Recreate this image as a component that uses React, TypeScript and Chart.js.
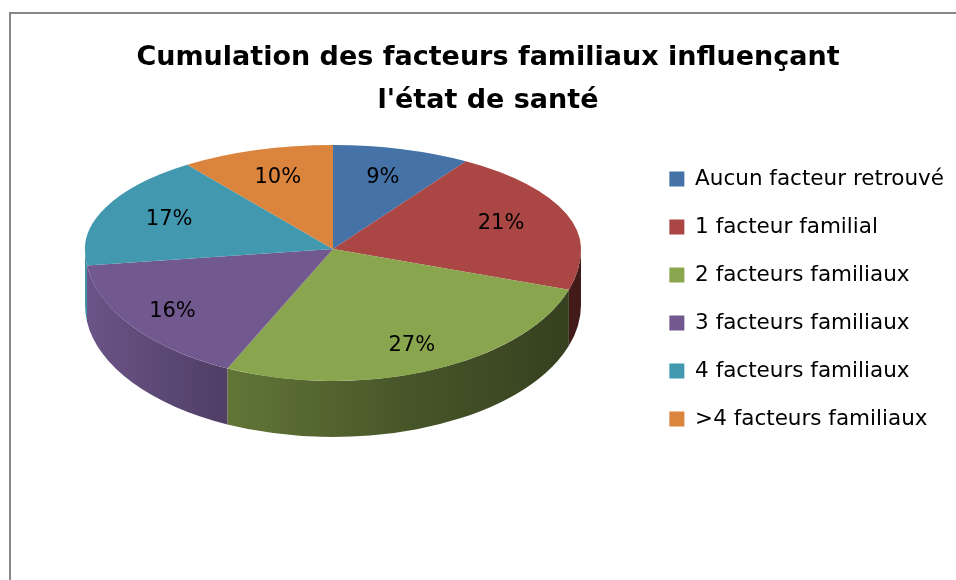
import React, { useEffect, useRef } from "react";
import { Chart, registerables } from "chart.js";

Chart.register(...registerables);

// ---- data ----
const categories = [
  "Aucun facteur retrouvé",
  "1 facteur familial",
  "2 facteurs familiaux",
  "3 facteurs familiaux",
  "4 facteurs familiaux",
  ">4 facteurs familiaux",
];
const percentages = [9, 21, 27, 16, 17, 10];
const sliceColors = ["#4572A7", "#AA4643", "#89A54E", "#71588F", "#4198AF", "#DB843D"];
const titleLines = ["Cumulation des facteurs familiaux influençant", "l'état de santé"];

// ---- 3D look (layout only) ----
const VIEW = { cx: 333, cy: 249, rx: 248, ryBack: 104, ryFront: 132, depth: 56 };
const FONT = "'DejaVu Sans', sans-serif";

function shade(hex: string, f: number) {
  const n = parseInt(hex.slice(1), 16);
  const r = Math.round(((n >> 16) & 255) * f);
  const g = Math.round(((n >> 8) & 255) * f);
  const b = Math.round((n & 255) * f);
  return `rgb(${r},${g},${b})`;
}

function applyHalf(ctx: CanvasRenderingContext2D, ax: number, ay: number, R: number, ry: number) {
  ctx.translate(VIEW.cx, VIEW.cy);
  ctx.scale(VIEW.rx / R, ry / R);
  ctx.translate(-ax, -ay);
}

const pie3d = {
  id: "pie3d",
  beforeDatasetsDraw(chart: any) {
    const meta = chart.getDatasetMeta(0);
    const arcs = meta.data;
    if (!arcs.length) return;
    const ctx: CanvasRenderingContext2D = chart.ctx;
    const { cx, cy, rx, ryFront, depth } = VIEW;
    // side walls (front half only)
    arcs.forEach((arc: any, i: number) => {
      const { startAngle, endAngle } = arc.getProps(["startAngle", "endAngle"], true);
      const s = Math.max(startAngle, 0);
      const e = Math.min(endAngle, Math.PI);
      if (e <= s) return;
      const col = sliceColors[i];
      const g = ctx.createLinearGradient(cx - rx, 0, cx + rx, 0);
      g.addColorStop(0, shade(col, 0.95));
      g.addColorStop(0.27, shade(col, 0.72));
      g.addColorStop(0.65, shade(col, 0.52));
      g.addColorStop(1, shade(col, 0.38));
      ctx.save();
      ctx.beginPath();
      ctx.ellipse(cx, cy, rx, ryFront, 0, s, e, false);
      ctx.ellipse(cx, cy + depth, rx, ryFront, 0, e, s, true);
      ctx.closePath();
      ctx.fillStyle = g;
      ctx.fill();
      ctx.restore();
    });
    const { x: ax, y: ay, outerRadius: R } = arcs[0].getProps(["x", "y", "outerRadius"], true);
    // back half of the top face drawn by the library under this transform
    ctx.save();
    ctx.beginPath();
    ctx.rect(0, 0, chart.width, cy);
    ctx.clip();
    applyHalf(ctx, ax, ay, R, VIEW.ryBack);
  },
  afterDatasetsDraw(chart: any) {
    const meta = chart.getDatasetMeta(0);
    const arcs = meta.data;
    if (!arcs.length) return;
    const ctx: CanvasRenderingContext2D = chart.ctx;
    ctx.restore();
    const { x: ax, y: ay, outerRadius: R } = arcs[0].getProps(["x", "y", "outerRadius"], true);
    // front half of the top face
    ctx.save();
    ctx.beginPath();
    ctx.rect(0, VIEW.cy, chart.width, chart.height - VIEW.cy);
    ctx.clip();
    applyHalf(ctx, ax, ay, R, VIEW.ryFront);
    arcs.forEach((arc: any) => arc.draw(ctx));
    ctx.restore();
    // percentage labels
    ctx.save();
    ctx.font = `21px ${FONT}`;
    ctx.fillStyle = "#000";
    ctx.textAlign = "center";
    ctx.textBaseline = "middle";
    arcs.forEach((arc: any, i: number) => {
      const { startAngle, endAngle } = arc.getProps(["startAngle", "endAngle"], true);
      const mid = (startAngle + endAngle) / 2;
      const front = Math.sin(mid) > 0;
      const k = front ? 0.8 : 0.72;
      const ry = front ? VIEW.ryFront : VIEW.ryBack;
      const X = VIEW.cx + Math.cos(mid) * VIEW.rx * k;
      const Y = VIEW.cy + Math.sin(mid) * ry * k;
      ctx.fillText(percentages[i] + "%", X, Y);
    });
    ctx.restore();
  },
};

export default function App() {
  const ref = useRef<HTMLCanvasElement | null>(null);
  useEffect(() => {
    if (!ref.current) return;
    const chart = new Chart(ref.current, {
      type: "pie",
      data: {
        labels: categories,
        datasets: [
          {
            data: percentages,
            backgroundColor: sliceColors,
            borderWidth: 0,
            clip: false as any,
          },
        ],
      },
      options: {
        responsive: false,
        animation: false,
        events: [],
        layout: { padding: { left: 22, right: 2, top: 0, bottom: 0 } },
        plugins: {
          title: {
            display: true,
            fullSize: true,
            text: titleLines,
            color: "#000",
            font: { family: FONT, size: 27, weight: "bold", lineHeight: 1.59 },
            padding: { top: 37, bottom: 19 },
          },
          legend: {
            position: "right",
            align: "start",
            fullSize: false,
            labels: {
              boxWidth: 15,
              boxHeight: 15,
              padding: 26.5,
              color: "#000",
              font: { family: FONT, size: 21.5 },
            },
          },
          tooltip: { enabled: false },
        },
      },
      plugins: [pie3d],
    });
    return () => chart.destroy();
  }, []);
  return (
    <div>
      <div
        style={{
          position: "fixed",
          left: 9,
          top: 12,
          width: 947,
          height: 568,
          boxSizing: "border-box",
          borderLeft: "2px solid #878787",
          borderTop: "2px solid #878787",
        }}
      />
      <canvas
        ref={ref}
        width={956}
        height={580}
        style={{ position: "fixed", left: 0, top: 0, display: "block" }}
      />
    </div>
  );
}
